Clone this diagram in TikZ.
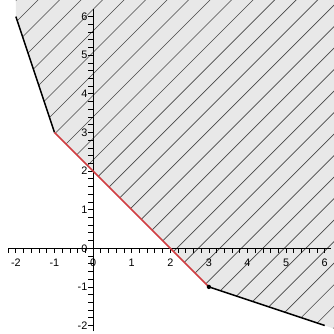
\documentclass[tikz,border=0pt]{standalone}
\usepackage{fontspec}
\setmainfont{Liberation Sans}
\usepackage{xcolor}
\usepackage{tikz}
\usetikzlibrary{arrows.meta, calc}
\definecolor{edgered}{RGB}{208,62,66}
\tikzset{
  % Plot styles
  axisline/.style={draw=black, line width=0.6pt},
  axistick/.style={draw=black, line width=0.5pt},
  ticklabel/.style={font=\fontsize{8}{9.6}\selectfont, inner sep=0pt},
  boundary/.style={draw=black, line width=1.1pt, line join=round},
  edgeline/.style={draw=edgered, line width=1.1pt},
  hatchline/.style={draw=black!72, line width=0.45pt},
  region/.style={fill=black!9},
}

\begin{document}
\begin{tikzpicture}[x=1cm, y=1cm]
    \useasboundingbox (-2.41,-2.2) rectangle (6.24,6.43);

    % Shaded region
    \begin{scope}
      \clip (-2,6.6) -- (-2,6) -- (-1,3) -- (3,-1) -- (6,-2) -- (6.3,-2.1) -- (6.3,6.6) -- cycle;
      \fill[region] (-2.5,-2.5) rectangle (6.5,6.6);
      \foreach \k in {-14,...,19}
        \draw[hatchline] (-3,{-3-1.613+0.557*\k}) -- ++(10.5,10.5);
    \end{scope}

    % Axes
    \draw[axisline] (-2.2,0) -- (6.15,0);
    \draw[axisline] (0,-2.15) -- (0,6.2);
    \foreach \t in {-11,...,30}
      \draw[axistick] ({0.2*\t},0) -- ++(0,-0.13);
    \foreach \t in {-10,...,30}
      \draw[axistick] (0,{0.2*\t}) -- ++(-0.13,0);

    % Tick labels
    \foreach \x in {-2,-1,0,1,2,3,4,5,6}
      \node[ticklabel, anchor=north] (xl\x) at (\x,-0.26) {\x};
    \foreach \y in {-2,-1,0,1,2,3,4,5,6}
      \node[ticklabel, anchor=east] (yl\y) at (-0.14,\y) {\y};

    % Boundary
    \draw[boundary] (-2,6) -- (-1,3);
    \draw[edgeline] (-1,3) -- (3,-1);
    \draw[boundary] (3,-1) -- (6,-2);
    \fill[black] (3,-1) circle (1.6pt);
  \end{tikzpicture}
\end{document}
